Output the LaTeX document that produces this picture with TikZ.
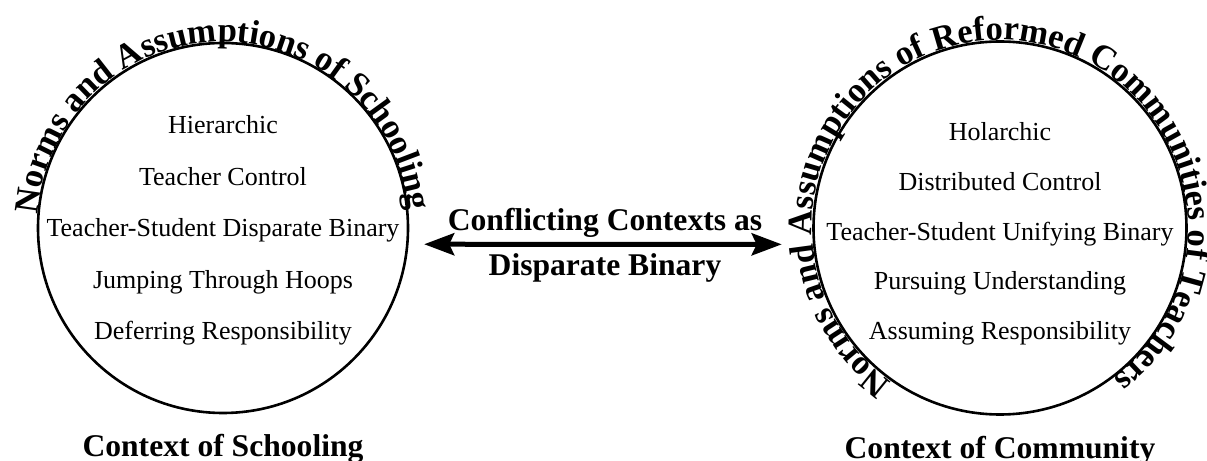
\documentclass[tikz,border=0pt]{standalone}
\usepackage{fontspec}
\setmainfont{Liberation Serif}
\usetikzlibrary{arrows.meta, positioning, decorations.text}

\newcommand{\ctxitemfont}{\fontsize{13}{15}\selectfont}
\newcommand{\ctxheadfont}{\fontsize{15.8}{18}\selectfont\bfseries}
\newcommand{\ctxringfont}{\fontsize{17.3}{20}\selectfont\bfseries}

\begin{document}
\begin{tikzpicture}[
    x=0.5pt, y=0.5pt,
    ring/.style={circle, draw, line width=1.3pt, inner sep=0pt},
    item/.style={font=\ctxitemfont, inner sep=0pt, text height=9.5pt, text depth=3pt},
    heading/.style={font=\ctxheadfont, inner sep=0pt},
    conflict/.style={
        {Stealth[length=15pt, width=11pt, inset=2.5pt]}-{Stealth[length=15pt, width=11pt, inset=2.5pt]},
        line width=2.5pt
    }
]

\useasboundingbox (0,0) rectangle (1207,461);

% The two contexts
\node[ring, minimum size=185pt] (school) at (223,233) {};
\node[ring, minimum size=186.5pt] (community) at (1000,233) {};

% Norms written round the rings
\path[decorate, decoration={text along path, text align=center,
    text={|\ctxringfont|Norms and Assumptions of Schooling}}]
    ([shift={(200:93pt)}]school.center) arc[start angle=200, end angle=-19, radius=93pt];
\path[decorate, decoration={text along path, text align=center,
    text={|\ctxringfont|Norms and Assumptions of Reformed Communities of Teachers}}]
    ([shift={(271:94pt)}]community.center) arc[start angle=271, end angle=-89, radius=94pt];

% Schooling list
\node[item] (hier) at (223,334) {Hierarchic};
\node[item, below=12.9pt of hier] (tctrl) {Teacher Control};
\node[item, below=12.9pt of tctrl] (disp) {Teacher-Student Disparate Binary};
\node[item, below=12.9pt of disp] (hoops) {Jumping Through Hoops};
\node[item, below=12.9pt of hoops] (defer) {Deferring Responsibility};

% Community list
\node[item] (holar) at (1000,327) {Holarchic};
\node[item, below=12pt of holar] (dctrl) {Distributed Control};
\node[item, below=12pt of dctrl] (unify) {Teacher-Student Unifying Binary};
\node[item, below=12pt of unify] (pursue) {Pursuing Understanding};
\node[item, below=12pt of pursue] (assume) {Assuming Responsibility};

% Titles
\node[heading, below=10pt of school] (schooltitle) {Context of Schooling};
\node[heading, below=10pt of community] (commtitle) {Context of Community};

% Conflict between them
\node[heading, anchor=base] (conflict1) at (605,230) {Conflicting Contexts as};
\node[heading, anchor=base] (conflict2) at (605,185) {Disparate Binary};
\draw[conflict, shorten <=7.8pt, shorten >=15.6pt] (school.-5) -- (community.185);

\end{tikzpicture}
\end{document}
